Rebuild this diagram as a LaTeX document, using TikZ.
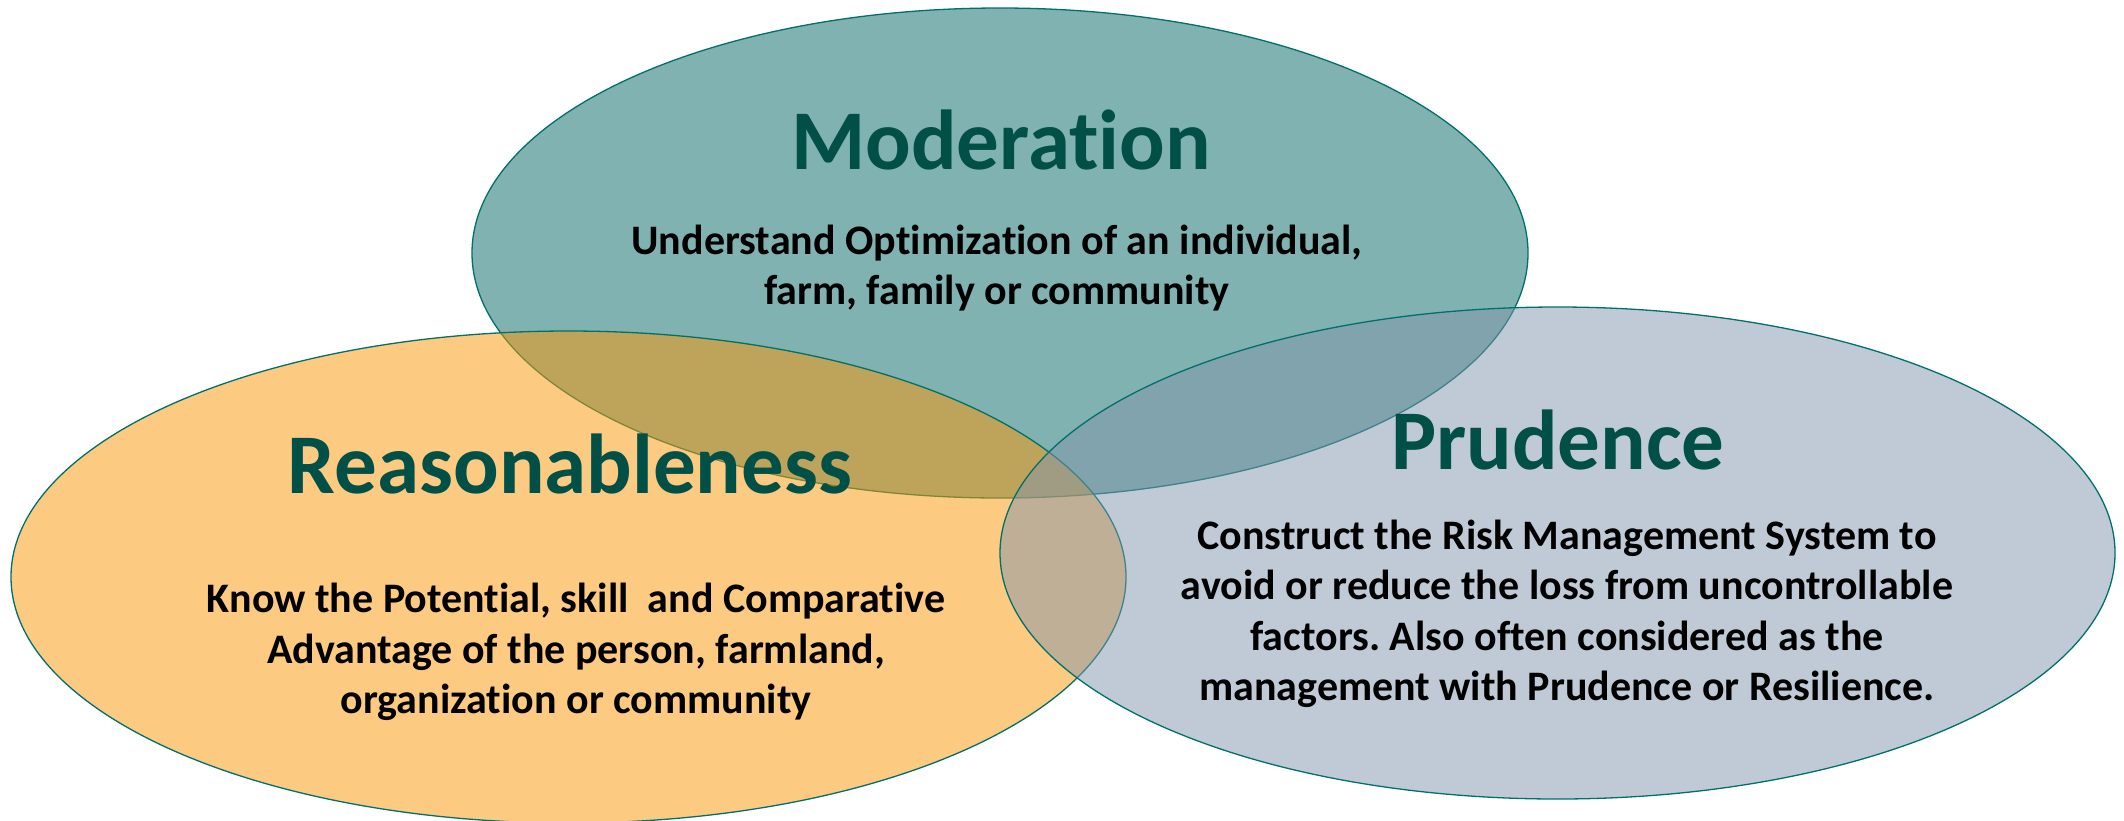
\documentclass[tikz,border=0pt]{standalone}
\usepackage{fontspec}
\setmainfont{Carlito}[Ligatures={NoCommon}]
\usetikzlibrary{shapes.geometric}
\definecolor{tealfill}{RGB}{0,101,97}
\definecolor{orangefill}{RGB}{249,153,11}
\definecolor{greyfill}{RGB}{129,149,173}
\definecolor{edge}{RGB}{0,112,107}
\definecolor{titlegreen}{RGB}{0,80,72}
\tikzset{
  venn/.style={ellipse, draw=edge, line width=1.3pt, inner sep=0pt, outer sep=0pt},
  vtitle/.style={font=\fontsize{85}{100}\selectfont\bfseries, text=titlegreen, inner sep=0pt, anchor=base},
  vbody/.style={font=\fontsize{42}{50.5}\selectfont\bfseries, text=black, align=center, inner sep=0pt, anchor=center}
}
\frenchspacing
\begin{document}
\begin{tikzpicture}[x=1pt,y=-1pt]
\useasboundingbox (0,0) rectangle (2124,820);
\node[venn, fill=tealfill, fill opacity=0.5, minimum width=1056pt, minimum height=490pt] (mod) at (1000,253) {};
\node[venn, fill=orangefill, fill opacity=0.52, minimum width=1115pt, minimum height=492pt] (rea) at (568.5,577) {};
\node[venn, fill=greyfill, fill opacity=0.5, minimum width=1115pt, minimum height=492pt] (pru) at (1557.5,553) {};
\node[vtitle] (modt) at (1001,169) {Moderation};
\node[vtitle] (reat) at (570,493) {Reasonableness};
\node[vtitle] (prut) at (1558,469) {Prudence};
\node[vbody] (modb) at (997,268) {Understand Optimization of an individual,\\farm, family or community};
\node[vbody] (reab) at (576,652) {Know the Potential, skill\ \ and Comparative\\Advantage of the person, farmland,\\organization or community};
\node[vbody] (prub) at (1567,614) {Construct the Risk Management System to\\avoid or reduce the loss from uncontrollable\\factors. Also often considered as the\\management with Prudence or Resilience.};
\end{tikzpicture}
\end{document}
